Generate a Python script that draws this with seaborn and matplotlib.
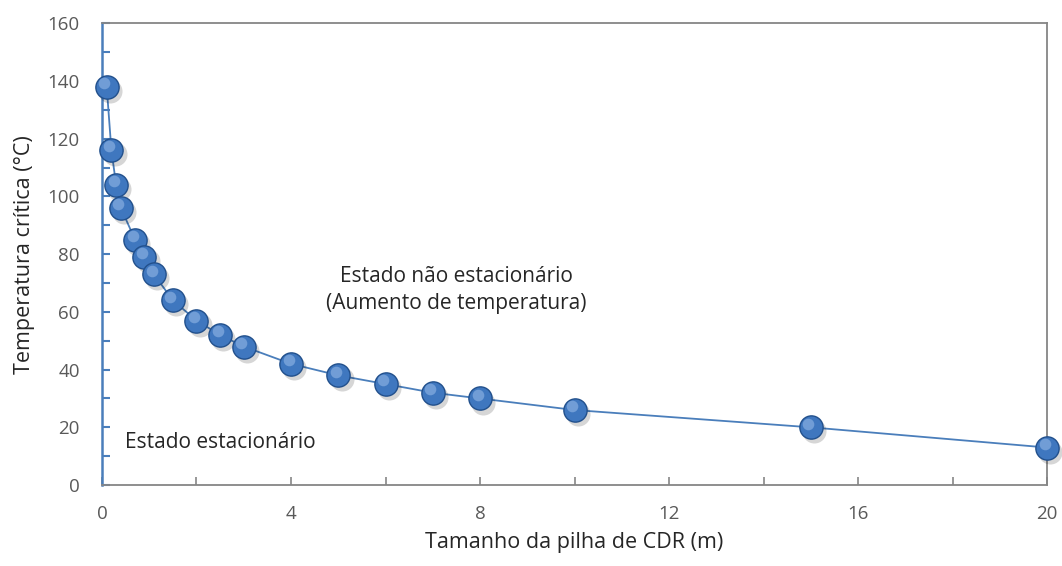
import matplotlib.pyplot as plt
import numpy as np
import pandas as pd
import seaborn as sns
from matplotlib.ticker import MultipleLocator

# Pile size (m) vs critical temperature (°C)
tamanho = [0.1, 0.2, 0.3, 0.4, 0.7, 0.9, 1.1, 1.5, 2, 2.5, 3, 4, 5, 6, 7, 8, 10, 15, 20]
temperatura = [138, 116, 104, 96, 85, 79, 73, 64, 57, 52, 48, 42, 38, 35, 32, 30, 26, 20, 13]

x_ticks = [0, 4, 8, 12, 16, 20]
y_ticks = [0, 20, 40, 60, 80, 100, 120, 140, 160]

df = pd.DataFrame({'tamanho': tamanho, 'temperatura': temperatura})

sns.set_style('white')
plt.rcParams['font.family'] = ['Open Sans', 'DejaVu Sans']

fig = plt.figure(figsize=(10.62, 5.66), dpi=100)
ax = fig.add_axes([0.096, 0.143, 0.890, 0.816])

blue = '#4A7EBB'
grey = '#868686'

sns.lineplot(data=df, x='tamanho', y='temperatura', ax=ax, color=blue,
             linewidth=1.3, zorder=2)
# soft shadow under the balls
ax.scatter(df['tamanho'] + 0.07, df['temperatura'] - 1.4, s=300, color='#000000',
           alpha=0.16, linewidths=0, zorder=3, clip_on=False)
sns.scatterplot(data=df, x='tamanho', y='temperatura', ax=ax, s=280,
                color='#3F77BF', edgecolor='#22508C', linewidth=1.0, zorder=4,
                clip_on=False)
# highlight to fake the sphere look
ax.scatter(df['tamanho'] - 0.05, df['temperatura'] + 1.3, s=70, color='#93B8E6',
           alpha=0.6, linewidths=0, zorder=5, clip_on=False)

ax.set_xlim(0, 20)
ax.set_ylim(0, 160)
ax.set_xticks(x_ticks)
ax.set_yticks(y_ticks)
ax.xaxis.set_minor_locator(MultipleLocator(2))
ax.yaxis.set_minor_locator(MultipleLocator(10))

for side in ['top', 'right', 'bottom']:
    ax.spines[side].set_color(grey)
    ax.spines[side].set_linewidth(1.3)
ax.spines['left'].set_color(blue)
ax.spines['left'].set_linewidth(1.8)

ax.tick_params(axis='x', which='both', bottom=True, direction='in', color=grey,
               length=6, width=1.2, labelcolor='#595959', labelsize=13.5, pad=14)
ax.tick_params(axis='y', which='both', left=True, direction='in', color=blue,
               length=6, width=1.5, labelcolor='#595959', labelsize=13.5, pad=16)
ax.tick_params(axis='both', which='minor', labelbottom=False, labelleft=False)

ax.set_xlabel('Tamanho da pilha de CDR (m)', fontsize=15.5, labelpad=7)
ax.set_ylabel('Temperatura crítica (°C)', fontsize=15.5, labelpad=9)

ax.text(7.5, 67.5, 'Estado não estacionário\n(Aumento de temperatura)', ha='center',
        va='center', fontsize=15, linespacing=1.4)
ax.text(0.49, 14.9, 'Estado estacionário', ha='left', va='center', fontsize=15)

plt.savefig('out.png', dpi=100)
